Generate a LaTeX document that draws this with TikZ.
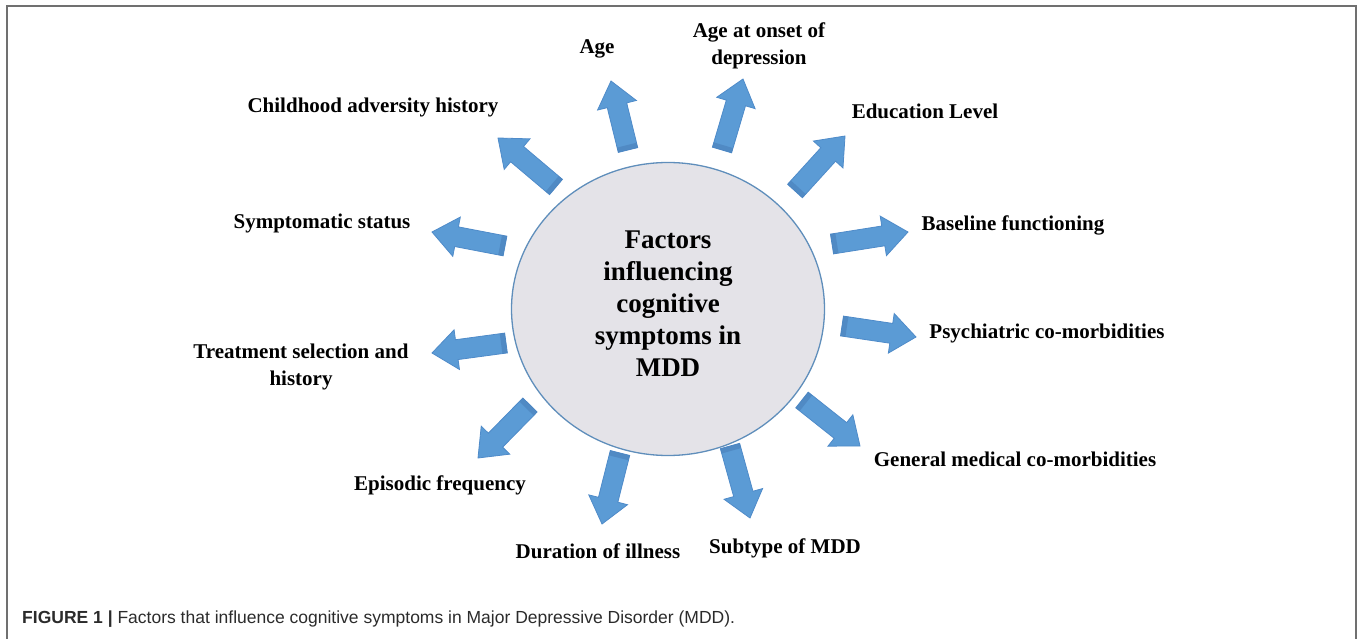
\documentclass[tikz,border=0pt]{standalone}
\usepackage{fontspec}
\setmainfont{Liberation Serif}
\newfontfamily\capfont{Liberation Sans}
\usetikzlibrary{calc,shapes.geometric}
\definecolor{arrowblue}{HTML}{5B9BD5}
\definecolor{arrowedge}{HTML}{4F8BC9}
\definecolor{tailblue}{HTML}{4A80BA}
\definecolor{hubfill}{HTML}{E4E3E8}
\definecolor{hubedge}{HTML}{5F8EBB}
\definecolor{framegray}{HTML}{707070}
\definecolor{captext}{HTML}{2B2B2B}
% block arrow from tail coordinate #1 to tip coordinate #2
\newcommand\blockarrow[2]{%
  \coordinate (hb) at ($(#2)!25pt!(#1)$);
  \coordinate (tb) at ($(#1)!5pt!(#2)$);
  \filldraw[arrowsty]
    ($(#1)!10pt!90:(#2)$) -- ($(hb)!10pt!90:(#2)$) -- ($(hb)!20pt!90:(#2)$) --
    (#2) -- ($(hb)!20pt!-90:(#2)$) -- ($(hb)!10pt!-90:(#2)$) --
    ($(#1)!10pt!-90:(#2)$) -- cycle;
  \fill[tailsty] ($(#1)!10pt!90:(#2)$) -- ($(tb)!10pt!90:(#2)$) --
    ($(tb)!10pt!-90:(#2)$) -- ($(#1)!10pt!-90:(#2)$) -- cycle;
}
\begin{document}
\begin{tikzpicture}[x=1pt,y=-1pt,
  arrowsty/.style={fill=arrowblue,draw=arrowedge,line width=0.8pt,line join=miter},
  tailsty/.style={fill=tailblue,opacity=0.6},
  hub/.style={ellipse,draw=hubedge,line width=1.3pt,fill=hubfill,
    minimum width=313pt,minimum height=293pt,inner sep=0pt},
  hubtext/.style={align=center,font=\fontsize{27}{32}\selectfont\bfseries,inner sep=0pt},
  lbl/.style={align=center,font=\fontsize{21}{27}\selectfont\bfseries,inner sep=0pt},
  framesty/.style={draw=framegray,line width=2pt},
  captionsty/.style={anchor=base west,inner sep=0pt,text=captext,
    font=\capfont\fontsize{17.5}{20}\selectfont}]
\useasboundingbox (0,0) rectangle (1358,639);
\draw[framesty] (7,639) -- (7,6) -- (1356,6) -- (1356,639);

\node[hub] (hub) at (668,309) {};
\node[hubtext] (hubtext) at (668,304) {Factors\\influencing\\cognitive\\symptoms in\\MDD};

% arrow tails and tips
\coordinate (t1) at (628,150);  \coordinate (h1) at (611,81);
\coordinate (t2) at (722,150);  \coordinate (h2) at (743,79);
\coordinate (t3) at (795,191);  \coordinate (h3) at (845,136);
\coordinate (t4) at (832,244);  \coordinate (h4) at (908,232);
\coordinate (t5) at (842,326);  \coordinate (h5) at (916,337);
\coordinate (t6) at (802,400);  \coordinate (h6) at (860,446);
\coordinate (t7) at (730,446);  \coordinate (h7) at (750,518);
\coordinate (t8) at (620,453);  \coordinate (h8) at (602,524);
\coordinate (t9) at (530,405);  \coordinate (h9) at (478,458);
\coordinate (t10) at (506,343); \coordinate (h10) at (432,353);
\coordinate (t11) at (505,246); \coordinate (h11) at (432,232);
\coordinate (t12) at (556,187); \coordinate (h12) at (498,138);

\blockarrow{t1}{h1}
\blockarrow{t2}{h2}
\blockarrow{t3}{h3}
\blockarrow{t4}{h4}
\blockarrow{t5}{h5}
\blockarrow{t6}{h6}
\blockarrow{t7}{h7}
\blockarrow{t8}{h8}
\blockarrow{t9}{h9}
\blockarrow{t10}{h10}
\blockarrow{t11}{h11}
\blockarrow{t12}{h12}

% labels
\node[lbl] (lAge) at (597,49) {Age};
\node[lbl] (lOnset) at (759,46) {Age at onset of\\depression};
\node[lbl] (lChild) at (373,107) {Childhood adversity history};
\node[lbl] (lEdu) at (925,111) {Education Level};
\node[lbl] (lSymp) at (322,223) {Symptomatic status};
\node[lbl] (lBase) at (1013,225) {Baseline functioning};
\node[lbl] (lPsy) at (1047,333) {Psychiatric co-morbidities};
\node[lbl] (lTreat) at (301,367) {Treatment selection and\\history};
\node[lbl] (lGen) at (1015,459) {General medical co-morbidities};
\node[lbl] (lEpi) at (440,485) {Episodic frequency};
\node[lbl] (lDur) at (598,551) {Duration of illness};
\node[lbl] (lSub) at (785,548) {Subtype of MDD};

\node[captionsty] (caption) at (22,623) {{\bfseries FIGURE 1 |} Factors that influence cognitive symptoms in Major Depressive Disorder (MDD).};
\end{tikzpicture}
\end{document}
